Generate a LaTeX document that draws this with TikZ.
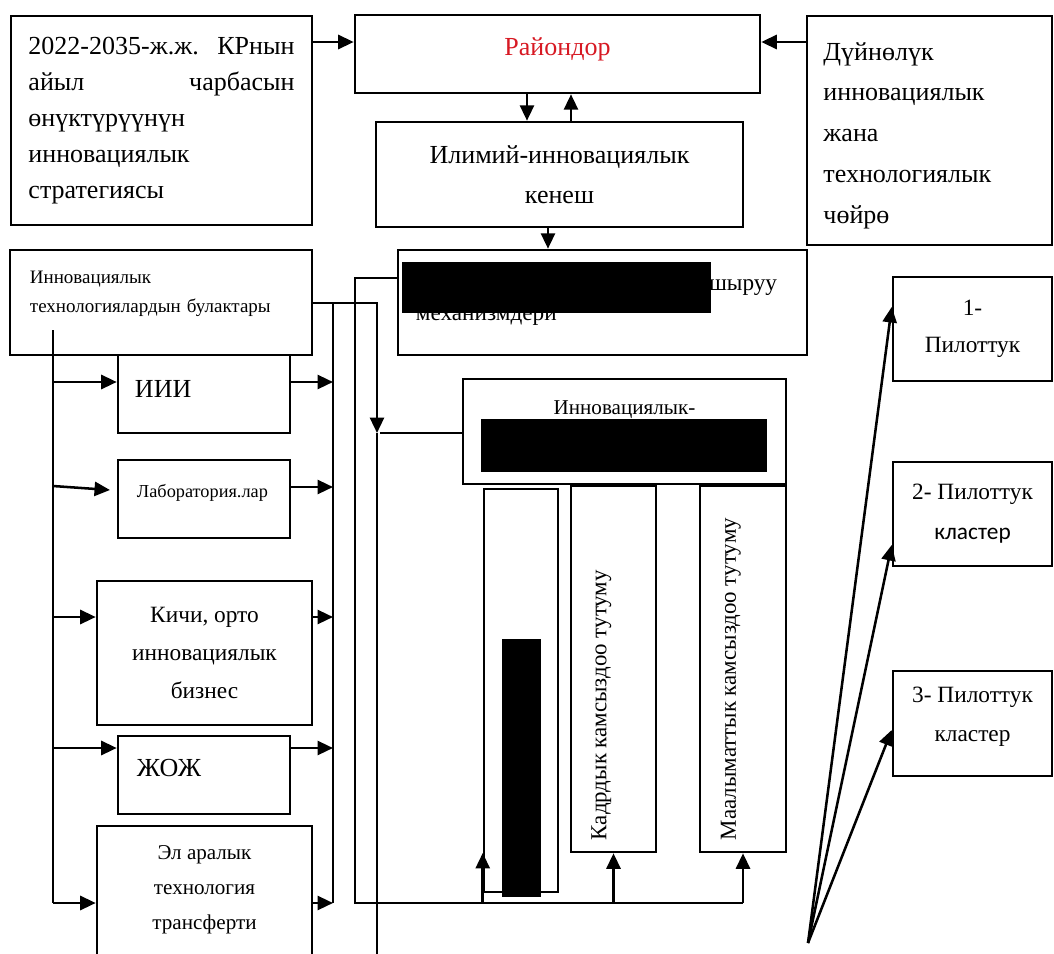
\documentclass[tikz,border=0pt]{standalone}
\usepackage{fontspec}
\setmainfont{Liberation Serif}
\newfontfamily\sansfnt{Carlito}
\usepackage{graphicx}
\usepackage{tikz}
\usetikzlibrary{arrows.meta, positioning}
\hyphenpenalty=10000
\exhyphenpenalty=10000
\definecolor{raionred}{RGB}{215,25,35}
\tikzstyle{box} = [draw, line width=1.8pt, inner sep=0pt]
\tikzstyle{line} = [draw, line width=1.8pt]
\tikzstyle{arrow} = [draw, line width=1.8pt, -{Triangle[length=11pt, width=10pt]}]
\newcommand{\bigfont}{\fontsize{18.5}{25.5}\selectfont}
\newcommand{\sidetext}[1]{\rotatebox{90}{\raisebox{0pt}[0pt][10pt]{\makebox[8.55cm][l]{#1}}}}

\begin{document}
\begin{tikzpicture}[x=0.025cm, y=-0.025cm]
	\useasboundingbox (0,0) rectangle (1054,954);
	\clip (0,0) rectangle (1054,954);

	% top row
	\node [box, minimum width=7.525cm, minimum height=5.225cm, text width=6.65cm, align=left, font=\fontsize{18.5}{25.5}\selectfont] (strat) at (161.5,120.5) {2022-2035-ж.ж.\hfill КРнын\\айыл\hfill чарбасын\\өнүктүрүүнүн\\инновациялык\\стратегиясы};
	\node [box, minimum width=10.125cm, minimum height=1.95cm, text=raionred, text height=13pt, text depth=11pt, font=\bigfont] (raion) at (557.5,54) {Райондор};
	\node [box, minimum width=6.125cm, minimum height=5.725cm, text width=5.3cm, align=left, text height=19.7pt, font=\fontsize{18.5}{29}\selectfont] (world) at (929.5,130.5) {Дүйнөлүк\\инновациялык\\жана\\технологиялык\\чөйрө};
	\node [box, minimum width=9.175cm, minimum height=2.625cm, align=center, font=\fontsize{18.5}{28.3}\selectfont] (kenesh) at (559.5,174.5) {Илимий-инновациялык\\кенеш};
	\node [box, minimum width=10.225cm, minimum height=2.625cm, text width=9.325cm, align=left, font=\fontsize{16.5}{21}\selectfont] (mech) at (602.5,302.5) {\hfill шыруу\hspace*{0.3cm}\mbox{}\\механизмдери};

	% left column
	\node [box, minimum width=7.55cm, minimum height=2.625cm, text width=6.55cm, align=left, text height=9pt, text depth=36.7pt, font=\fontsize{13.5}{21}\selectfont] (src) at (161,302.5) {Инновациялык\\технологиялардын булактары};
	\node [box, minimum width=4.3cm, minimum height=1.95cm, text width=3.45cm, align=left, text height=13pt, text depth=8.7pt, font=\bigfont] (iii) at (204,394) {ИИИ};
	\node [box, minimum width=4.3cm, minimum height=1.95cm, text width=3.35cm, align=left, text height=9pt, text depth=11.8pt, font=\fontsize{13}{16}\selectfont] (lab) at (204,499) {Лаборатория.лар};
	\node [box, minimum width=5.375cm, minimum height=3.6cm, align=center, font=\fontsize{16.6}{27}\selectfont] (kichi) at (204.5,653) {Кичи, орто\\инновациялык\\бизнес};
	\node [box, minimum width=4.3cm, minimum height=1.95cm, text width=3.35cm, align=left, text height=13pt, text depth=10.2pt, font=\bigfont] (zhozh) at (204,775) {ЖОЖ};
	\node [box, minimum width=5.375cm, minimum height=3.4cm, align=center, text depth=9pt, font=\fontsize{15}{24.8}\selectfont] (trans) at (204.5,894) {Эл аралык\\технология\\трансферти};

	% middle block
	\node [box, minimum width=8.075cm, minimum height=2.625cm, text height=10pt, text depth=33.5pt, font=\fontsize{15}{18}\selectfont] (innov) at (624.5,431.5) {Инновациялык-};
	\node [box, minimum width=1.85cm, minimum height=10.075cm] (sub1) at (521,690.5) {};
	\node [box, minimum width=2.125cm, minimum height=9.15cm, font=\fontsize{16.3}{20}\selectfont] (kadr) at (613.5,669) {\sidetext{Кадрдык камсыздоо тутуму}};
	\node [box, minimum width=2.15cm, minimum height=9.15cm, font=\fontsize{16.3}{20}\selectfont] (maal) at (743,669) {\sidetext{Маалыматтык камсыздоо тутуму}};

	% pilots
	\node [box, minimum width=3.975cm, minimum height=2.6cm, align=center, font=\fontsize{16.6}{26.3}\selectfont] (pilot1) at (972.5,329) {1-\\Пилоттук};
	\node [box, minimum width=3.975cm, minimum height=2.6cm, align=center, font=\fontsize{16.6}{28.4}\selectfont] (pilot2) at (972.5,514) {2- Пилоттук\\{\sansfnt кластер}};
	\node [box, minimum width=3.975cm, minimum height=2.625cm, align=center, text depth=13.1pt, font=\fontsize{16.6}{28.4}\selectfont] (pilot3) at (972.5,723.5) {3- Пилоттук\\кластер};

	% hidden parts
	\fill (402,262) rectangle (711,313);
	\fill (481,419) rectangle (767,472);
	\fill (502,639) rectangle (541,897);

	\coordinate (lbus) at (53,330);
	\coordinate (fan) at (808,943);

	\path [arrow] (strat.east |- 0,42) -- (raion.west |- 0,42);
	\path [arrow] (world.west |- 0,42) -- (raion.east |- 0,42);
	\path [arrow] (raion.south -| 527,0) -- (kenesh.north -| 527,0);
	\path [arrow] (kenesh.north -| 571,0) -- (raion.south -| 571,0);
	\path [arrow] (kenesh.south -| 548,0) -- (mech.north -| 548,0);

	\path [line] (mech.west |- 0,278) -| (355,903) -- (maal.south |- 0,903);
	\path [arrow] (maal.south |- 0,903) -- (maal.south);
	\path [arrow] (kadr.south |- 0,903) -- (kadr.south);
	\path [arrow] (sub1.west |- 0,903) -- (sub1.west |- 0,853);

	\path [arrow] (src.east |- 0,303) -| (377,433);
	\path [line] (377,433) -- (377,960);
	\path [line] (380,433) -- (innov.west |- 0,433);
	\path [line] (333,303) -- (333,903);
	\path [line] (lbus) -- (53,903);

	\path [arrow] (53,382) -- (iii.west |- 0,382);
	\path [arrow] (53,486) -- (110,490);
	\path [arrow] (53,617) -- (kichi.west |- 0,617);
	\path [arrow] (53,748) -- (zhozh.west |- 0,748);
	\path [arrow] (53,903) -- (trans.west |- 0,903);
	\path [arrow] (iii.east |- 0,382) -- (333,382);
	\path [arrow] (lab.east |- 0,487) -- (333,487);
	\path [arrow] (kichi.east |- 0,617) -- (333,617);
	\path [arrow] (zhozh.east |- 0,748) -- (333,748);
	\path [arrow] (trans.east |- 0,903) -- (333,903);

	\path [arrow] (fan) -- (pilot1.west |- 0,307);
	\path [arrow] (fan) -- (pilot2.west |- 0,545);
	\path [arrow] (fan) -- (pilot3.west |- 0,730);
\end{tikzpicture}
\end{document}
